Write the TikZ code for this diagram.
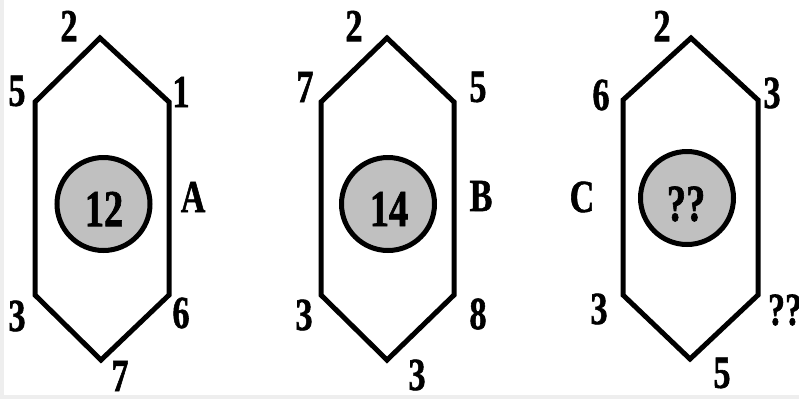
\documentclass[tikz,border=0pt]{standalone}
\usepackage{fontspec}
\setmainfont{Liberation Serif}[FakeStretch=0.74,BoldFeatures={FakeBold=1.2}]
\begin{document}
\begin{tikzpicture}[x=1pt,y=-1pt,
  hexline/.style={line width=5pt,line join=miter},
  disc/.style={line width=5pt,fill=discgray},
  lbl/.style={inner sep=0pt,font=\fontsize{46}{46}\selectfont\bfseries},
  big/.style={inner sep=0pt,font=\fontsize{52}{52}\selectfont\bfseries}]
\definecolor{discgray}{HTML}{C0C0C0}
\definecolor{framegray}{HTML}{EEEEEE}
\useasboundingbox (0,0) rectangle (799,399);
\clip (0,0) rectangle (799,399);
\fill[framegray] (0,0) rectangle (799,399);
\fill[white] (4,0) rectangle (799,395);
% hexagon A
\draw[hexline] (100,38) -- (169,102) -- (169,295) -- (101,360) -- (35,295) -- (35,102) -- cycle;
\draw[disc] (103.5,204) circle (46.5);
\node[big] (nA) at (104,209) {12};
\node[lbl] (a2) at (69,26) {2};
\node[lbl] (a5) at (17,91) {5};
\node[lbl] (a1) at (181,92) {1};
\node[lbl] (aA) at (193,197) {A};
\node[lbl] (a3) at (17,316) {3};
\node[lbl] (a6) at (181,313) {6};
\node[lbl] (a7) at (120,376) {7};
% hexagon B
\draw[hexline] (387,38) -- (454,102) -- (454,295) -- (387,360) -- (321,295) -- (321,102) -- cycle;
\draw[disc] (388,204) circle (46.5);
\node[big] (nB) at (389,209) {14};
\node[lbl] (b2) at (354,26) {2};
\node[lbl] (b7) at (305,87) {7};
\node[lbl] (b5) at (478,87) {5};
\node[lbl] (bB) at (481,196) {B};
\node[lbl] (b3) at (304,315) {3};
\node[lbl] (b8) at (478,314) {8};
\node[lbl] (b3b) at (417,375) {3};
% hexagon C
\draw[hexline] (691,38) -- (758,100) -- (758,295) -- (690,359) -- (623,295) -- (623,100) -- cycle;
\draw[disc] (687,198) circle (46.5);
\node[big] (nC) at (686,204) {??};
\node[lbl] (c2) at (662,26) {2};
\node[lbl] (c6) at (601,95) {6};
\node[lbl] (c3) at (772,93) {3};
\node[lbl] (cC) at (582,197) {C};
\node[lbl] (c3l) at (599,309) {3};
\node[lbl] (cq) at (785,310) {??};
\node[lbl] (c5) at (722,373) {5};
\end{tikzpicture}
\end{document}
